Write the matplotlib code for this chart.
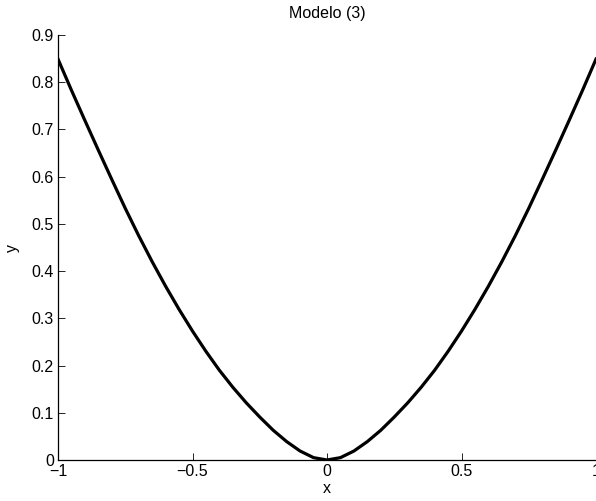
import matplotlib
matplotlib.use('Agg')
import matplotlib.pyplot as plt

# curve values read at fixed x positions (symmetric about x = 0)
x_right = [0.0, 0.05, 0.1, 0.15, 0.2, 0.25, 0.3, 0.35, 0.4, 0.45, 0.5,
           0.55, 0.6, 0.65, 0.7, 0.75, 0.8, 0.85, 0.9, 0.95, 1.0]
y_right = [0.000, 0.005, 0.019, 0.039, 0.063, 0.091, 0.121, 0.154, 0.190, 0.230, 0.273,
           0.319, 0.368, 0.420, 0.475, 0.533, 0.594, 0.656, 0.719, 0.783, 0.849]

x_vals = [-v for v in x_right[:0:-1]] + x_right
y_vals = y_right[:0:-1] + y_right

x_ticks = [-1, -0.5, 0, 0.5, 1]
x_tick_labels = ['\u22121', '\u22120.5', '0', '0.5', '1']
y_ticks = [0, 0.1, 0.2, 0.3, 0.4, 0.5, 0.6, 0.7, 0.8, 0.9]
y_tick_labels = ['0', '0.1', '0.2', '0.3', '0.4', '0.5', '0.6', '0.7', '0.8', '0.9']

plt.rcParams['font.family'] = ['Liberation Sans', 'DejaVu Sans']
plt.rcParams['font.size'] = 11.5

fig = plt.figure(figsize=(5.96, 5.01), dpi=100)
ax = fig.add_axes([58 / 596, 41 / 501, 538 / 596, 425 / 501])

ax.plot(x_vals, y_vals, color='black', linewidth=2.3, solid_joinstyle='round')

ax.set_xlim(-1, 1)
ax.set_ylim(0, 0.9)
ax.set_xticks(x_ticks)
ax.set_xticklabels(x_tick_labels)
ax.set_yticks(y_ticks)
ax.set_yticklabels(y_tick_labels)
ax.tick_params(direction='in', length=5, width=0.6, pad=3)

for side in ('top', 'right'):
    ax.spines[side].set_visible(False)
for side in ('left', 'bottom'):
    ax.spines[side].set_linewidth(0.9)

ax.set_title('Modelo (3)', fontsize=11.5, pad=12)
ax.set_xlabel('x', labelpad=1)
ax.set_ylabel('y', labelpad=8)

fig.savefig('out.png', dpi=100)
